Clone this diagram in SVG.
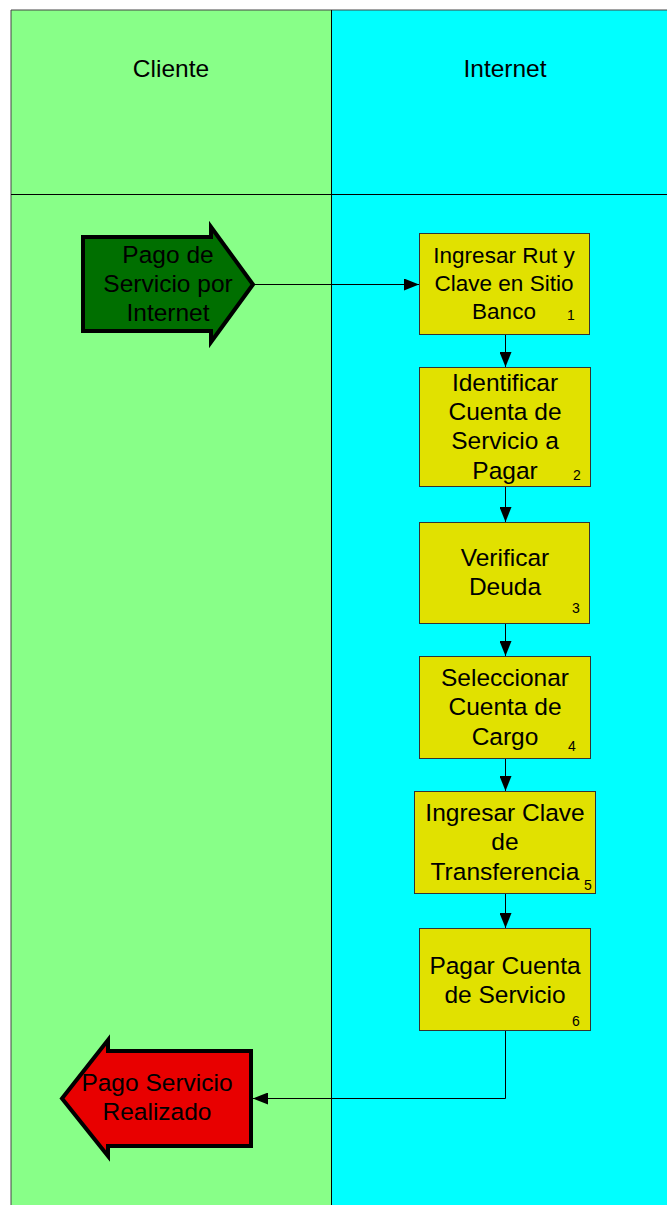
<svg xmlns="http://www.w3.org/2000/svg" width="667" height="1205" viewBox="0 0 667 1205">
<defs>
<style>
.t{font-family:"Liberation Sans",Arial,sans-serif;font-size:24.5px;fill:#000;text-anchor:middle}
.s{font-size:22.5px}
.n{font-family:"Liberation Sans",Arial,sans-serif;font-size:14px;fill:#000;text-anchor:middle}
.box{fill:#E1E100;stroke:#333;stroke-width:1}
.ln{fill:none;stroke:#000;stroke-width:1}
.big{stroke:#000;stroke-width:4;stroke-linejoin:miter}
</style>
<marker id="ah" markerWidth="15" markerHeight="12" refX="15" refY="6" orient="auto" markerUnits="userSpaceOnUse">
<path d="M0,0 L15,6 L0,12 Z" fill="#000"/>
</marker>
</defs>
<g id="lanes">
<rect x="11" y="10" width="320.5" height="1196" fill="#88FF88"/>
<rect x="331.5" y="10" width="336" height="1196" fill="#00FFFF"/>
<path d="M11,1206 V10 H668" fill="none" stroke="#444" stroke-width="1"/>
<line x1="331.5" y1="10" x2="331.5" y2="1206" stroke="#000" stroke-width="1"/>
<line x1="11" y1="194.5" x2="668" y2="194.5" stroke="#000" stroke-width="1"/>
<text class="t" x="171" y="77">Cliente</text>
<text class="t" x="505" y="77">Internet</text>
</g>
<g id="connectors">
<line class="ln" x1="253" y1="284.5" x2="419" y2="284.5" marker-end="url(#ah)"/>
<line class="ln" x1="505.5" y1="335" x2="505.5" y2="367" marker-end="url(#ah)"/>
<line class="ln" x1="505.5" y1="487" x2="505.5" y2="522" marker-end="url(#ah)"/>
<line class="ln" x1="505.5" y1="624" x2="505.5" y2="656" marker-end="url(#ah)"/>
<line class="ln" x1="505.5" y1="759" x2="505.5" y2="791" marker-end="url(#ah)"/>
<line class="ln" x1="505.5" y1="894" x2="505.5" y2="928" marker-end="url(#ah)"/>
<path class="ln" d="M505.5,1031 V1098.5 H253" marker-end="url(#ah)"/>
</g>
<g id="start">
<path class="big" fill="#006F00" d="M83,237 H211 V227 L253,284.5 L211,342 V331 H83 Z"/>
<text class="t" x="168" y="263">Pago de</text>
<text class="t" x="168" y="292">Servicio por</text>
<text class="t" x="168" y="321">Internet</text>
</g>
<g id="n1">
<rect class="box" x="419.5" y="233.5" width="170" height="101"/>
<text class="t s" x="504" y="263">Ingresar Rut y</text>
<text class="t s" x="504" y="291">Clave en Sitio</text>
<text class="t s" x="504" y="319">Banco</text>
<text class="n" x="571" y="320">1</text>
</g>
<g id="n2">
<rect class="box" x="419.5" y="367.5" width="171" height="119"/>
<text class="t" x="505" y="391">Identificar</text>
<text class="t" x="505" y="420">Cuenta de</text>
<text class="t" x="505" y="449">Servicio a</text>
<text class="t" x="505" y="479">Pagar</text>
<text class="n" x="577" y="480">2</text>
</g>
<g id="n3">
<rect class="box" x="419.5" y="522.5" width="170" height="101"/>
<text class="t" x="505" y="566">Verificar</text>
<text class="t" x="505" y="595">Deuda</text>
<text class="n" x="576" y="613">3</text>
</g>
<g id="n4">
<rect class="box" x="419.5" y="656.5" width="171" height="102"/>
<text class="t" x="505" y="686">Seleccionar</text>
<text class="t" x="505" y="715">Cuenta de</text>
<text class="t" x="505" y="745">Cargo</text>
<text class="n" x="572" y="751">4</text>
</g>
<g id="n5">
<rect class="box" x="414.5" y="791.5" width="181" height="102"/>
<text class="t" x="505" y="821">Ingresar Clave</text>
<text class="t" x="505" y="850">de</text>
<text class="t" x="505" y="880">Transferencia</text>
<text class="n" x="588" y="890">5</text>
</g>
<g id="n6">
<rect class="box" x="419.5" y="928.5" width="171" height="102"/>
<text class="t" x="505" y="974">Pagar Cuenta</text>
<text class="t" x="505" y="1003">de Servicio</text>
<text class="n" x="576" y="1026">6</text>
</g>
<g id="end">
<path class="big" fill="#E80000" d="M251,1051 H108 V1040 L62,1098.5 L108,1156 V1146 H251 Z"/>
<text class="t" x="157" y="1091">Pago Servicio</text>
<text class="t" x="157" y="1120">Realizado</text>
</g>
</svg>
